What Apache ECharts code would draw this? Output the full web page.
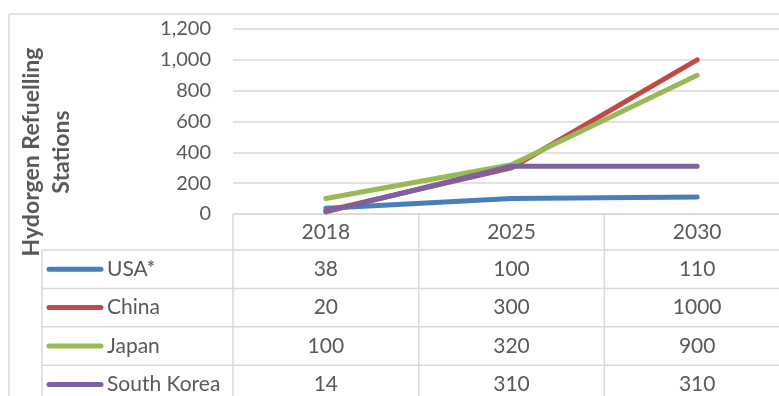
<!DOCTYPE html>
<html><head><meta charset="utf-8">
<script src="https://cdn.jsdelivr.net/npm/echarts@6/dist/echarts.min.js"></script>
<style>html,body{margin:0;padding:0;background:#fff}#c{width:779px;height:396px}</style>
</head><body><div id="c"></div>
<script>
var years = ['2018', '2025', '2030'];
var seriesNames = ['USA*', 'China', 'Japan', 'South Korea'];
var usa = [38, 100, 110];
var china = [20, 300, 1000];
var japan = [100, 320, 900];
var southKorea = [14, 310, 310];
var colors = ['#4a7ebb', '#be4b48', '#98b954', '#7d60a0'];
var yTicks = [0, 200, 400, 600, 800, 1000, 1200];
var allData = [usa, china, japan, southKorea];

var FONT = 'Lato';
var GRAY = '#595959';
var LINE = '#d9d9d9';
var FS = 21;

var chart = echarts.init(document.getElementById('c'), null, {renderer: 'canvas'});
chart.setOption({
  animation: false,
  grid: {left: 233, top: 29, height: 185, width: 557, containLabel: false, outerBoundsMode: 'none'},
  xAxis: {
    type: 'category', data: years, boundaryGap: true,
    axisLine: {lineStyle: {color: LINE, width: 1.5}},
    axisTick: {show: false},
    axisLabel: {color: GRAY, fontFamily: FONT, fontSize: FS, margin: 8, verticalAlign: 'top'}
  },
  yAxis: {
    type: 'value', min: yTicks[0], max: yTicks[yTicks.length - 1], interval: 200,
    axisLine: {show: false}, axisTick: {show: false},
    splitLine: {lineStyle: {color: LINE, width: 1.5}},
    axisLabel: {color: GRAY, fontFamily: FONT, fontSize: 20, margin: 22,
      formatter: function (v) { return v.toLocaleString('en-US'); }}
  },
  series: seriesNames.map(function (n, i) {
    return {
      name: n, type: 'line', data: allData[i], symbol: 'none',
      lineStyle: {color: colors[i], width: 5, cap: 'round', join: 'round'},
      itemStyle: {color: colors[i]}
    };
  })
});

var centers = years.map(function (y) { return chart.convertToPixel({xAxisIndex: 0}, y); });
var bw = centers[1] - centers[0];
var plotLeft = centers[0] - bw / 2;
var axisY = chart.convertToPixel({yAxisIndex: 0}, 0);
var headerH = 36, rowH = 38.4;
var tableLeft = 42, W = 779, H = 396;
var g = [];
function hline(x1, x2, y) { g.push({type: 'line', shape: {x1: x1, y1: y, x2: x2, y2: y}, style: {stroke: LINE, lineWidth: 1.5}, silent: true}); }
function vline(x, y1, y2) { g.push({type: 'line', shape: {x1: x, y1: y1, x2: x, y2: y2}, style: {stroke: LINE, lineWidth: 1.5}, silent: true}); }
// outer chart border
hline(9, W, 14); vline(9, 14, H);
var rowTop = axisY + headerH;
for (var r = 0; r < seriesNames.length; r++) hline(tableLeft, W, rowTop + r * rowH);
vline(tableLeft, rowTop, H);
for (var c = 0; c <= years.length; c++) vline(plotLeft + c * bw, axisY, H);
seriesNames.forEach(function (n, i) {
  var cy = rowTop + i * rowH + rowH / 2;
  g.push({type: 'line', shape: {x1: 49, y1: cy, x2: 101, y2: cy}, style: {stroke: colors[i], lineWidth: 5, lineCap: 'round'}, silent: true});
  g.push({type: 'text', x: 107, y: cy, style: {text: n, fill: GRAY, font: FS + 'px ' + FONT, textVerticalAlign: 'middle', textAlign: 'left'}});
  allData[i].forEach(function (v, j) {
    g.push({type: 'text', x: centers[j], y: cy, style: {text: String(v), fill: GRAY, font: FS + 'px ' + FONT, textVerticalAlign: 'middle', textAlign: 'center'}});
  });
});
g.push({type: 'text', x: 47, y: 152, rotation: Math.PI / 2,
  style: {text: 'Hydorgen Refuelling\nStations', fill: GRAY, font: 'bold 23px ' + FONT, textAlign: 'center', textVerticalAlign: 'middle', lineHeight: 30}});
chart.setOption({graphic: g});
</script></body></html>
